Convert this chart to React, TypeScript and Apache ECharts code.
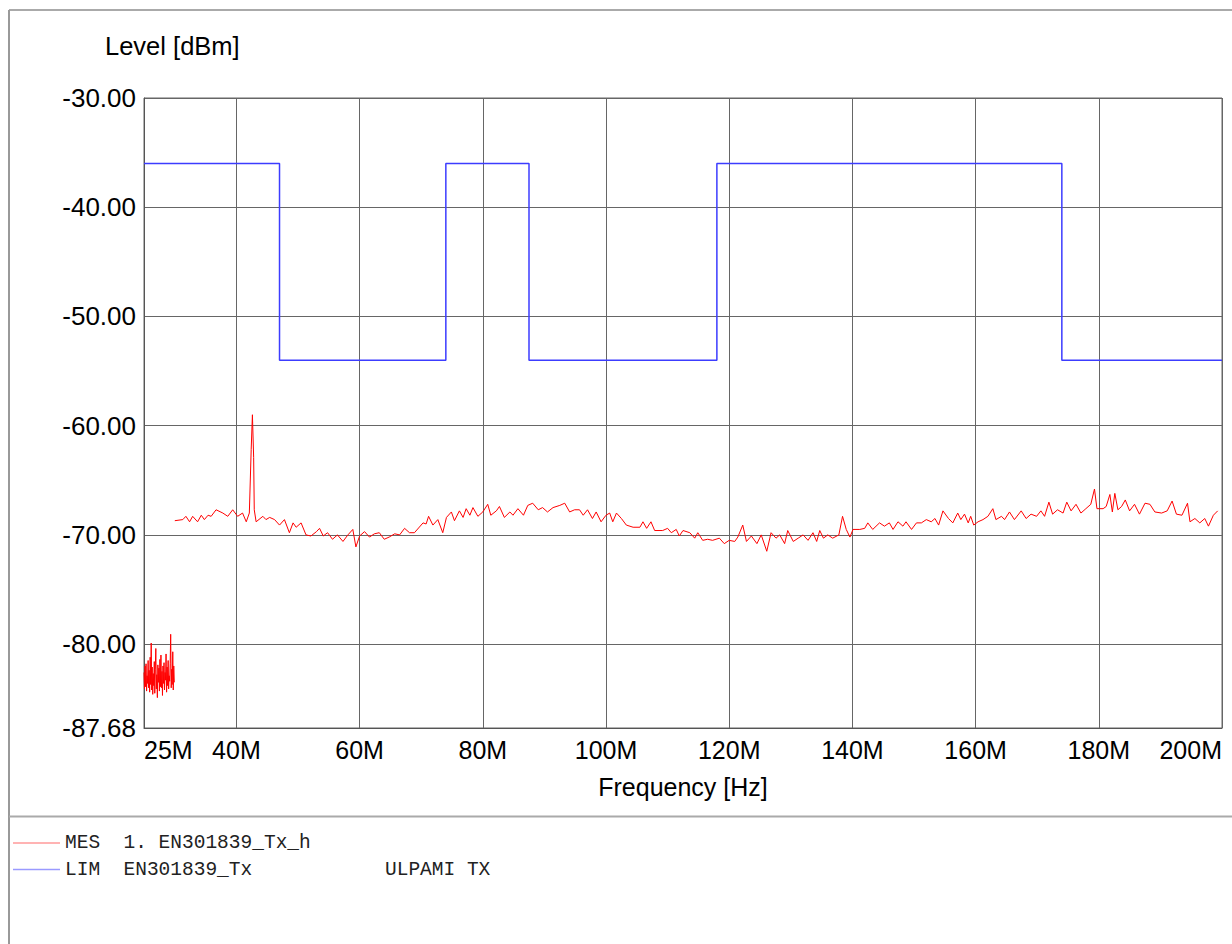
import React, { useEffect, useRef } from "react";
import * as echarts from "echarts";

// Frequency in MHz, level in dBm
const xTickValues = [25, 40, 60, 80, 100, 120, 140, 160, 180, 200];
const yTickValues = [-87.68, -80, -70, -60, -50, -40, -30];

// Limit line EN301839_Tx (step function)
const limitLine: [number, number][] = [
  [25, -36], [47, -36], [47, -54], [74, -54], [74, -36], [87.5, -36],
  [87.5, -54], [118, -54], [118, -36], [174, -36], [174, -54], [200, -54],
];

// Measurement, low band segment (25-30 MHz, dense sweep)
const mesLowBand: [number, number][] = [
  [25.0, -82.6], [25.08, -84.1], [25.17, -82.0], [25.25, -83.9], [25.33, -81.8],
  [25.42, -84.3], [25.5, -82.9], [25.58, -83.6], [25.67, -81.5], [25.75, -84.0],
  [25.83, -82.4], [25.92, -84.4], [26.0, -81.2], [26.08, -83.7], [26.17, -79.9],
  [26.25, -84.2], [26.33, -82.1], [26.42, -84.6], [26.5, -82.7], [26.58, -83.8],
  [26.67, -81.6], [26.75, -84.5], [26.83, -82.3], [26.92, -80.4], [27.0, -84.1],
  [27.08, -82.8], [27.17, -84.9], [27.25, -81.9], [27.33, -83.5], [27.42, -82.2],
  [27.5, -84.3], [27.58, -81.4], [27.67, -83.9], [27.75, -81.0], [27.83, -84.0],
  [27.92, -82.5], [28.0, -84.7], [28.08, -82.0], [28.17, -83.6], [28.25, -81.7],
  [28.33, -84.2], [28.42, -82.6], [28.5, -83.3], [28.58, -80.9], [28.67, -84.4],
  [28.75, -82.1], [28.83, -83.8], [28.92, -81.5], [29.0, -84.1], [29.08, -82.9],
  [29.17, -83.4], [29.25, -81.8], [29.33, -79.1], [29.42, -84.0], [29.5, -82.3],
  [29.58, -83.7], [29.67, -80.7], [29.75, -84.2], [29.83, -82.0], [29.92, -83.5],
];

// Measurement, main sweep (30-200 MHz)
const mesMain: [number, number][] = [
  [30.0, -68.7], [31.3, -68.6], [31.8, -68.3], [32.4, -68.8], [32.9, -68.3],
  [33.7, -68.8], [34.3, -68.2], [34.8, -68.6], [35.4, -68.2], [35.9, -68.3],
  [36.7, -67.7], [37.8, -68.0], [38.6, -68.3], [39.4, -67.7], [40.2, -68.3],
  [41.0, -68.0], [41.6, -68.8], [42.1, -68.0], [42.4, -62.2], [42.6, -59.0],
  [42.8, -62.9], [42.9, -67.7], [43.2, -68.8], [44.3, -68.3], [44.8, -68.6],
  [45.4, -68.4], [46.2, -68.6], [47.0, -69.1], [47.8, -68.6], [48.6, -69.8],
  [49.2, -68.9], [49.7, -69.3], [50.5, -68.9], [51.3, -70.0], [52.1, -70.1],
  [53.0, -69.7], [53.5, -69.4], [54.1, -70.1], [54.8, -69.8], [55.6, -70.4],
  [56.4, -70.0], [57.3, -70.6], [58.1, -70.0], [58.9, -69.5], [59.4, -71.1],
  [60.0, -70.1], [60.8, -69.7], [61.6, -70.2], [62.4, -69.9], [63.2, -69.8],
  [64.0, -70.4], [64.8, -70.2], [65.7, -69.9], [66.5, -70.0], [67.3, -69.4],
  [68.1, -69.8], [68.9, -69.8], [70.3, -68.9], [70.8, -69.0], [71.2, -68.3],
  [71.9, -69.1], [72.7, -68.6], [73.5, -69.8], [74.1, -68.4], [74.9, -67.9],
  [75.4, -68.7], [76.2, -67.8], [76.8, -68.4], [77.3, -67.6], [77.9, -68.2],
  [78.4, -67.5], [79.2, -68.3], [80.0, -67.9], [80.8, -67.2], [81.3, -68.2],
  [82.2, -67.8], [82.7, -67.4], [83.5, -68.4], [84.4, -67.9], [84.9, -68.2],
  [85.7, -67.6], [86.6, -68.2], [87.3, -67.3], [88.1, -67.1], [89.0, -67.7],
  [89.7, -67.5], [90.5, -67.9], [91.4, -67.5], [92.5, -67.3], [93.3, -67.1],
  [94.1, -67.9], [94.9, -67.7], [95.7, -67.7], [96.3, -68.2], [97.0, -67.7],
  [97.8, -68.5], [98.4, -67.9], [99.2, -68.8], [100.0, -68.2], [100.6, -68.0],
  [101.1, -68.8], [101.7, -68.0], [102.5, -68.5], [103.3, -69.1], [104.4, -69.3],
  [105.5, -69.3], [106.0, -68.8], [106.6, -69.4], [107.3, -68.8], [107.9, -69.6],
  [109.2, -69.6], [110.0, -69.4], [110.6, -69.8], [111.4, -69.5], [111.9, -70.1],
  [112.5, -69.6], [113.6, -69.8], [114.4, -70.3], [114.9, -69.8], [115.7, -70.5],
  [116.5, -70.4], [117.3, -70.5], [118.4, -70.3], [119.2, -70.8], [120.0, -70.5],
  [120.9, -70.6], [121.4, -70.2], [122.2, -69.1], [122.8, -70.6], [123.6, -70.1],
  [124.5, -70.8], [125.2, -70.0], [126.1, -71.5], [126.8, -69.8], [127.6, -70.3],
  [128.2, -70.0], [129.0, -70.8], [129.5, -69.6], [130.4, -70.6], [131.2, -70.3],
  [132.0, -70.0], [132.8, -70.5], [133.6, -69.8], [134.2, -70.6], [134.7, -69.6],
  [135.3, -70.3], [136.0, -70.0], [136.8, -70.3], [137.8, -70.0], [138.4, -68.3],
  [139.0, -69.5], [139.6, -70.2], [140.1, -69.5], [141.2, -69.5], [142.0, -69.4],
  [142.5, -68.9], [143.3, -69.5], [144.4, -68.9], [145.2, -69.2], [146.0, -68.9],
  [146.6, -69.5], [147.4, -68.8], [148.2, -69.2], [148.7, -68.8], [149.6, -69.5],
  [150.4, -68.9], [151.2, -68.9], [152.0, -68.6], [152.8, -68.8], [153.4, -68.5],
  [154.0, -69.1], [154.7, -67.8], [155.6, -68.5], [156.3, -68.9], [157.1, -68.0],
  [157.6, -68.6], [158.2, -68.1], [158.8, -68.9], [159.2, -68.3], [159.7, -69.1],
  [160.4, -68.8], [161.2, -68.6], [162.0, -68.3], [162.8, -67.6], [163.3, -68.6],
  [164.2, -68.3], [164.7, -68.6], [165.5, -67.9], [166.3, -68.6], [167.4, -67.8],
  [168.2, -68.5], [169.0, -68.1], [169.9, -68.3], [170.6, -67.8], [171.2, -68.3],
  [171.9, -67.0], [172.5, -68.1], [173.3, -67.7], [174.2, -68.0], [174.8, -67.0],
  [175.5, -67.8], [176.3, -67.2], [177.1, -68.0], [177.9, -67.6], [178.7, -67.2],
  [179.3, -65.8], [179.7, -67.6], [180.7, -67.6], [181.2, -67.4], [181.8, -66.3],
  [182.2, -67.9], [182.6, -66.2], [183.1, -67.7], [183.7, -67.4], [184.3, -66.8],
  [185.0, -67.8], [185.8, -67.2], [186.6, -68.1], [187.5, -67.1], [188.3, -67.2],
  [189.1, -67.9], [190.2, -68.0], [191.1, -67.8], [191.9, -66.9], [192.6, -68.1],
  [193.5, -68.2], [194.4, -67.1], [194.8, -68.8], [195.6, -68.5], [196.4, -68.9],
  [197.2, -68.5], [197.8, -69.2], [198.6, -68.2], [199.3, -67.8],
];

const legendRows = [
  { label: "MES  1. EN301839_Tx_h", extra: "", color: "#ff9a9a" },
  { label: "LIM  EN301839_Tx", extra: "ULPAMI TX", color: "#9a9aff" },
];

const SANS = "'Liberation Sans', Arial, sans-serif";
const MONO = "'Liberation Mono', 'Courier New', monospace";

export default function App() {
  const ref = useRef<HTMLDivElement>(null);

  useEffect(() => {
    if (!ref.current) return;
    const chart = echarts.init(ref.current, null, { renderer: "svg" });

    const legendGraphics: any[] = [];
    legendRows.forEach((row, i) => {
      const y = 843 + i * 26.5;
      legendGraphics.push({
        type: "line",
        shape: { x1: 13, y1: y, x2: 60, y2: y },
        style: { stroke: row.color, lineWidth: 1.5 },
      });
      legendGraphics.push({
        type: "text",
        x: 65,
        y,
        style: {
          text: row.label,
          font: `19.5px ${MONO}`,
          fill: "#222",
          textVerticalAlign: "middle",
        },
      });
      if (row.extra) {
        legendGraphics.push({
          type: "text",
          x: 385,
          y,
          style: {
            text: row.extra,
            font: `19.5px ${MONO}`,
            fill: "#222",
            textVerticalAlign: "middle",
          },
        });
      }
    });

    chart.setOption({
      animation: false,
      backgroundColor: "#fff",
      grid: {
        left: 144,
        top: 98,
        width: 1078,
        height: 630,
        show: true,
        borderColor: "#666",
        borderWidth: 1,
      },
      xAxis: {
        type: "value",
        min: 25,
        max: 200,
        name: "Frequency [Hz]",
        nameLocation: "middle",
        nameGap: 46,
        nameTextStyle: { fontFamily: SANS, fontSize: 25, color: "#000" },
        axisLine: { show: true, lineStyle: { color: "#555", width: 1 } },
        axisTick: { show: false, customValues: xTickValues },
        axisLabel: {
          customValues: xTickValues,
          formatter: (v: number) => `${v}M`,
          fontFamily: SANS,
          fontSize: 25,
          color: "#000",
          margin: 9,
          alignMinLabel: "left",
          alignMaxLabel: "right",
        },
        splitLine: { show: true, lineStyle: { color: "#666", width: 1 } },
      },
      yAxis: {
        type: "value",
        min: -87.68,
        max: -30,
        axisLine: { show: true, lineStyle: { color: "#555", width: 1 } },
        axisTick: { show: false, customValues: yTickValues },
        axisLabel: {
          customValues: yTickValues,
          formatter: (v: number) => v.toFixed(2),
          fontFamily: SANS,
          fontSize: 26,
          color: "#000",
          margin: 8,
        },
        splitLine: { show: true, lineStyle: { color: "#666", width: 1 } },
      },
      graphic: [
        {
          type: "line",
          shape: { x1: 9, y1: 10, x2: 1232, y2: 10 },
          style: { stroke: "#aaa", lineWidth: 2 },
        },
        {
          type: "line",
          shape: { x1: 9, y1: 10, x2: 9, y2: 944 },
          style: { stroke: "#999", lineWidth: 2 },
        },
        {
          type: "line",
          shape: { x1: 9, y1: 816.5, x2: 1232, y2: 816.5 },
          style: { stroke: "#aaa", lineWidth: 2 },
        },
        {
          type: "text",
          x: 105,
          y: 46,
          style: {
            text: "Level [dBm]",
            font: `25.5px ${SANS}`,
            fill: "#000",
            textVerticalAlign: "middle",
          },
        },
        ...legendGraphics,
      ],
      series: [
        {
          name: "LIM",
          type: "line",
          data: limitLine,
          showSymbol: false,
          lineStyle: { color: "#3c3cff", width: 1.5 },
          z: 3,
        },
        {
          name: "MES low",
          type: "line",
          data: mesLowBand,
          showSymbol: false,
          lineStyle: { color: "#ff0000", width: 1 },
          z: 4,
        },
        {
          name: "MES",
          type: "line",
          data: mesMain,
          showSymbol: false,
          lineStyle: { color: "#ff0000", width: 1 },
          z: 4,
        },
      ],
    });

    return () => chart.dispose();
  }, []);

  return (
    <div
      ref={ref}
      style={{ position: "absolute", left: 0, top: 0, width: 1232, height: 944 }}
    />
  );
}
